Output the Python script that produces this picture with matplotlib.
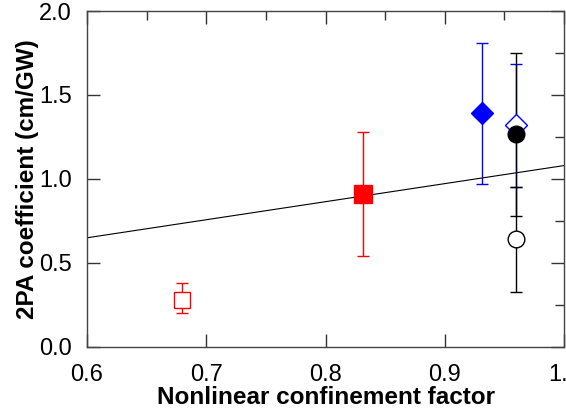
import matplotlib
matplotlib.use("Agg")
import matplotlib.pyplot as plt
from matplotlib.ticker import MultipleLocator, FormatStrFormatter

plt.rcParams["font.family"] = ["Liberation Sans", "DejaVu Sans"]

# data points: (x, y, symmetric error)
red_open_x, red_open_y, red_open_lo, red_open_hi = [0.68], [0.28], [0.08], [0.10]
red_fill_x, red_fill_y, red_fill_err = [0.831], [0.91], [0.37]
blue_fill_x, blue_fill_y, blue_fill_err = [0.931], [1.39], [0.42]
blue_open_x, blue_open_y, blue_open_err = [0.96], [1.32], [0.365]
blk_fill_x, blk_fill_y, blk_fill_err = [0.96], [1.265], [0.485]
blk_open_x, blk_open_y, blk_open_err = [0.96], [0.64], [0.31]

fit_x = [0.6, 1.0]
fit_y = [0.65, 1.08]

fig = plt.figure(figsize=(5.66, 4.12), dpi=100)
ax = fig.add_axes([0.1537, 0.1578, 0.843, 0.8155])

ax.plot(fit_x, fit_y, color="black", lw=0.8, zorder=2)

ekw = dict(capsize=4.5, elinewidth=1.0, capthick=1.0, zorder=3)
ax.errorbar(red_open_x, red_open_y, yerr=[red_open_lo, red_open_hi], fmt="s", ms=12,
            mfc="white", mec="red", mew=1.0, ecolor="red", **ekw)
ax.errorbar(red_fill_x, red_fill_y, yerr=red_fill_err, fmt="s", ms=13,
            mfc="red", mec="red", ecolor="red", **ekw)
ax.errorbar(blue_fill_x, blue_fill_y, yerr=blue_fill_err, fmt="D", ms=11,
            mfc="blue", mec="blue", ecolor="blue", **ekw)
ax.errorbar(blue_open_x, blue_open_y, yerr=blue_open_err, fmt="D", ms=11,
            mfc="white", mec="blue", mew=1.0, ecolor="blue", **ekw)
ax.errorbar(blk_open_x, blk_open_y, yerr=blk_open_err, fmt="o", ms=12,
            mfc="white", mec="black", mew=1.0, ecolor="black", **ekw)
ax.errorbar(blk_fill_x, blk_fill_y, yerr=blk_fill_err, fmt="o", ms=12,
            mfc="black", mec="black", ecolor="black", **ekw)

ax.set_xlim(0.6, 1.0)
ax.set_ylim(0.0, 2.0)
ax.xaxis.set_major_locator(MultipleLocator(0.1))
ax.xaxis.set_minor_locator(MultipleLocator(0.05))
ax.yaxis.set_major_locator(MultipleLocator(0.5))
ax.yaxis.set_minor_locator(MultipleLocator(0.25))
ax.tick_params(which="major", direction="in", length=9.5, width=1, color="#333333",
               labelsize=17, top=True, right=True)
ax.tick_params(axis="x", which="major", pad=12)
ax.tick_params(axis="y", which="major", pad=11)
ax.tick_params(which="minor", direction="in", length=6.5, width=1, color="#333333",
               bottom=False, left=False, top=True, right=True)
ax.xaxis.set_major_formatter(FormatStrFormatter("%.1f"))
ax.yaxis.set_major_formatter(FormatStrFormatter("%.1f"))
for s in ax.spines.values():
    s.set_color("#444444")
    s.set_linewidth(1.0)

ax.set_xlabel("Nonlinear confinement factor", fontsize=17.5, fontweight="bold", labelpad=0)
ax.set_ylabel("2PA coefficient (cm/GW)", fontsize=17.5, fontweight="bold", labelpad=0)

fig.savefig("out.png", dpi=100)
